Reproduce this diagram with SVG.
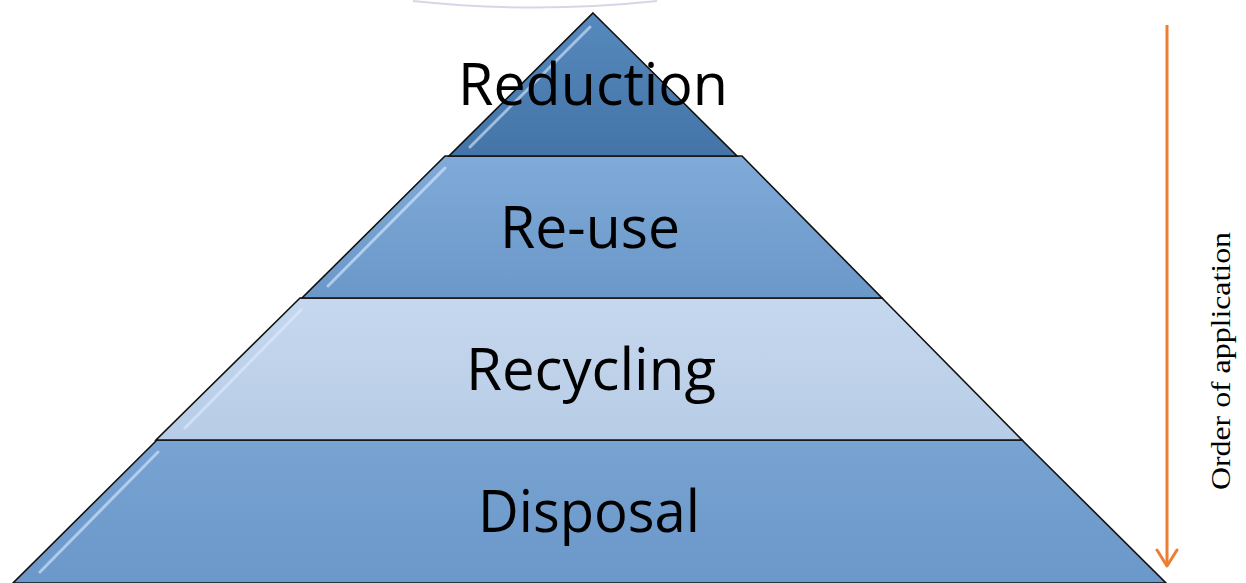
<svg xmlns="http://www.w3.org/2000/svg" width="1246" height="583" viewBox="0 0 1246 583">
<defs>
<style>
.tier{stroke:#111;stroke-width:1.6;stroke-linejoin:miter}
.hl{fill:none;stroke:#dcecff;stroke-opacity:0.6;stroke-width:3;stroke-linecap:round}
.lbl{font-family:"Open Sans","Noto Sans",sans-serif;font-size:58px;fill:#000;text-anchor:middle}
</style>
<linearGradient id="gRed" x1="0" y1="0" x2="0" y2="1"><stop offset="0" stop-color="#5689bd"/><stop offset="1" stop-color="#4474a8"/></linearGradient>
<linearGradient id="gReu" x1="0" y1="0" x2="0" y2="1"><stop offset="0" stop-color="#80aad8"/><stop offset="1" stop-color="#6a98c9"/></linearGradient>
<linearGradient id="gRec" x1="0" y1="0" x2="0" y2="1"><stop offset="0" stop-color="#c6d8ee"/><stop offset="1" stop-color="#b7cce6"/></linearGradient>
<linearGradient id="gDis" x1="0" y1="0" x2="0" y2="1"><stop offset="0" stop-color="#78a3d2"/><stop offset="1" stop-color="#6b98ca"/></linearGradient>
<marker id="chev" markerWidth="24" markerHeight="24" refX="20" refY="12" orient="auto" markerUnits="userSpaceOnUse" viewBox="0 0 24 24">
<path d="M4,2 L20,12 L4,22" fill="none" stroke="#ed7d31" stroke-width="3" stroke-linecap="round" stroke-linejoin="round"/>
</marker>
</defs>
<rect width="1246" height="583" fill="#ffffff"/>
<path d="M413,1 Q535,14 657,1" fill="none" stroke="#d8d6e6" stroke-width="2"/>
<g id="disposal">
<polygon class="tier" points="157,440 1022,440 1166,583 13,583" fill="url(#gDis)"/>
<path class="hl" d="M158,452 L40,572"/>
<text class="lbl" x="589" y="532" textLength="222" lengthAdjust="spacingAndGlyphs">Disposal</text>
</g>
<g id="recycling">
<polygon class="tier" points="300,298 882,298 1022,440 156,440" fill="url(#gRec)"/>
<path class="hl" d="M301,310 L185,428"/>
<text class="lbl" x="591" y="390" textLength="250" lengthAdjust="spacingAndGlyphs">Recycling</text>
</g>
<g id="reuse">
<polygon class="tier" points="445,156 742,156 882,298 302,298" fill="url(#gReu)"/>
<path class="hl" d="M445,168 L328,286"/>
<text class="lbl" x="590" y="248" textLength="180" lengthAdjust="spacingAndGlyphs">Re-use</text>
</g>
<g id="reduction">
<polygon class="tier" points="593,13 737,156 449,156" fill="url(#gRed)"/>
<path class="hl" d="M590,27 L470,147"/>
<text class="lbl" x="593" y="105" textLength="270" lengthAdjust="spacingAndGlyphs">Reduction</text>
</g>
<g id="connectors">
<line x1="1167" y1="25" x2="1167" y2="566" stroke="#ed7d31" stroke-width="3" marker-end="url(#chev)"/>
</g>
<g id="axis-label">
<text x="0" y="0" transform="translate(1230,361) rotate(-90)" font-family="'Liberation Serif',serif" font-size="28" text-anchor="middle" textLength="258" lengthAdjust="spacingAndGlyphs" fill="#000">Order of application</text>
</g>
</svg>
